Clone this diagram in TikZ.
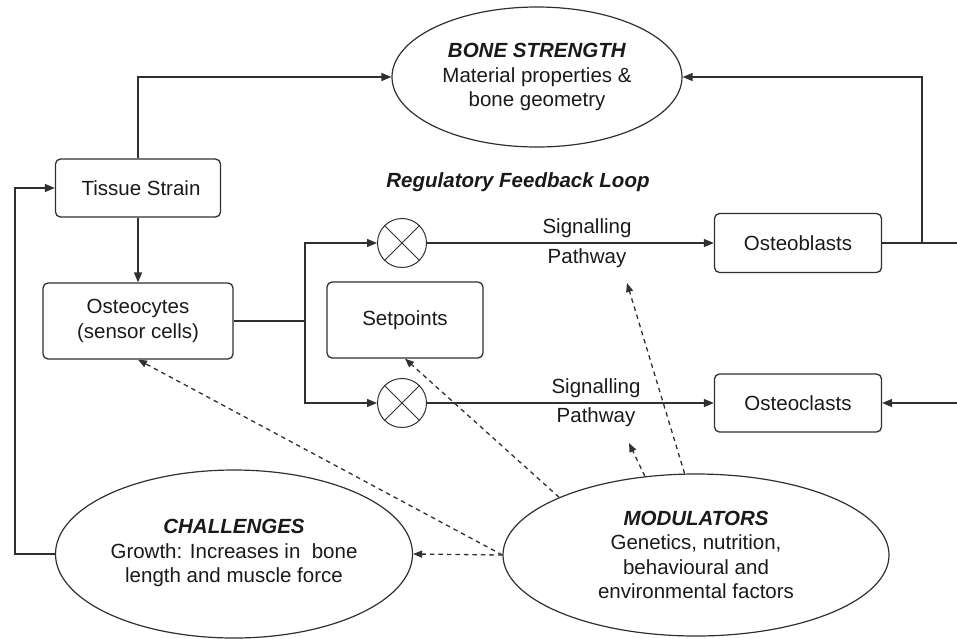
\documentclass[tikz,border=0pt]{standalone}
\usepackage{fontspec}
\setmainfont{Liberation Sans}
\usetikzlibrary{shapes.geometric,arrows.meta}
\definecolor{ln}{HTML}{303030}
\definecolor{txt}{HTML}{1A1A1A}
\tikzset{
  boxnode/.style={draw=ln, line width=1.3pt, rounded corners=5pt, inner sep=0pt, text=txt, align=center},
  ellnode/.style={draw=ln, line width=1.2pt, ellipse, inner sep=0pt},
  txtnode/.style={text=txt, align=center, inner sep=0pt},
  xcirc/.style={draw=ln, line width=1pt, circle, minimum size=49pt, inner sep=0pt},
  conn/.style={draw=ln, line width=1.3pt},
  arr/.style={conn, -{Triangle[length=10pt,width=8pt]}},
  darr/.style={draw=ln, line width=1.3pt, dash pattern=on 4.5pt off 4pt, -{Triangle[length=9pt,width=7pt]}},
  lbl/.style={text=txt, inner sep=0pt}
}
\begin{document}
\begin{tikzpicture}[x=1pt,y=-1pt, font=\fontsize{20.5}{24.5}\selectfont]
\useasboundingbox (0,0) rectangle (957,638);

% nodes
\node[ellnode, minimum width=290pt, minimum height=140pt] (bs) at (537,77) {};
\node[txtnode] (bst) at (537,77) {\textbf{\textit{BONE STRENGTH}}\\Material properties \&\\bone geometry};

\node[boxnode, minimum width=165pt, minimum height=58pt] (ts) at (138,188) {\hspace*{6pt}Tissue Strain};
\node[boxnode, minimum width=190pt, minimum height=76pt] (oc) at (138,321) {Osteocytes\\(sensor cells)};
\node[boxnode, minimum width=156pt, minimum height=76pt] (sp) at (405,320) {Setpoints};

\node[txtnode] (rfl) at (518,182) {\textbf{\textit{Regulatory Feedback Loop}}};

\node[xcirc] (c1) at (402,243) {};
\draw[ln, line width=1pt] (c1.45) -- (c1.225) (c1.135) -- (c1.315);
\node[xcirc] (c2) at (402,403) {};
\draw[ln, line width=1pt] (c2.45) -- (c2.225) (c2.135) -- (c2.315);

\node[boxnode, minimum width=167pt, minimum height=59pt] (ob) at (798,243) {Osteoblasts};
\node[boxnode, minimum width=167pt, minimum height=58pt] (ocl) at (798,403) {Osteoclasts};

\node[lbl] (s1) at (587,228) {Signalling};
\node[lbl] (p1) at (587,258) {Pathway};
\node[lbl] (s2) at (596,388) {Signalling};
\node[lbl] (p2) at (596,417) {Pathway};

\node[ellnode, minimum width=357pt, minimum height=168pt] (ch) at (234,554) {};
\node[txtnode] (cht) at (234,553) {\textbf{\textit{CHALLENGES}}\\Growth: Increases in\ \ bone\\length and muscle force};

\node[ellnode, minimum width=386pt, minimum height=162pt] (md) at (696,555) {};
\node[txtnode] (mdt) at (696,555) {\textbf{\textit{MODULATORS}}\\Genetics, nutrition,\\behavioural and\\environmental factors};

% coordinates
\coordinate (j) at (305,321);
\coordinate (rv) at (922,243);
\coordinate (re) at (957,243);
\coordinate (re2) at (957,403);
\coordinate (lx) at (15,554);
\coordinate (t1) at (627,283);
\coordinate (t2) at (629,443);

% solid connectors
\draw[arr] (ts.north) |- (bs.west);
\draw[arr] (ts.south) -- (oc.north);
\draw[arr] (ch.west) -- (lx) |- (ts.west);
\draw[conn] (oc.east) -- (j);
\draw[arr] (j) |- (c1.west);
\draw[arr] (j) |- (c2.west);
\draw[arr] (c1.east) -- (ob.west);
\draw[arr] (c2.east) -- (ocl.west);
\draw[conn] (ob.east) -- (re);
\draw[arr] (rv) |- (bs.east);
\draw[arr] (re2) -- (ocl.east);

% dashed connectors
\draw[darr] (md.west) -- (ch.east);
\draw[darr] (md.west) -- (oc.south);
\draw[darr] (md.north west) -- (sp.south);
\draw[darr] (md.123) -- (t2);
\draw[darr] (md.98) -- (t1);
\end{tikzpicture}
\end{document}
